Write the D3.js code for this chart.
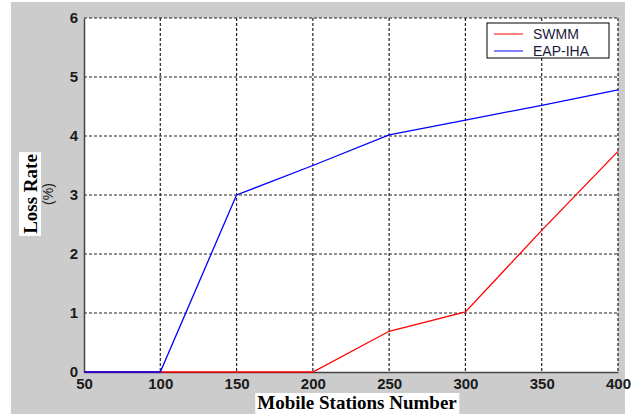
<!DOCTYPE html>
<html>
<head>
<meta charset="utf-8">
<script src="https://cdn.jsdelivr.net/npm/d3@7"></script>
<style>
body{margin:0;background:#fff;}
</style>
</head>
<body>
<script>
var stations=[50,100,150,200,250,300,350,400];
var swmm=[0,0,0,0,0.69,1.02,2.4,3.74];
var eapIha=[0,0,3.0,3.5,4.02,4.27,4.52,4.78];
var seriesNames=["SWMM","EAP-IHA"];
var seriesColors=["#ff0000","#0000ff"];
var yTicks=[0,1,2,3,4,5,6];

var width=636, height=414;
var margin={left:84, right:18, top:18, bottom:42};
var innerW=width-margin.left-margin.right;
var innerH=height-margin.top-margin.bottom;

var svg=d3.select("body").append("svg").attr("width",width).attr("height",height);

// grey figure background
svg.append("rect").attr("x",11).attr("y",2).attr("width",614).attr("height",412).attr("fill","#cccccc");

var x=d3.scaleLinear().domain([50,400]).range([0,innerW]);
var y=d3.scaleLinear().domain([0,6]).range([innerH,0]);

var g=svg.append("g").attr("transform","translate("+margin.left+","+margin.top+")");
g.append("rect").attr("width",innerW).attr("height",innerH).attr("fill","#fff");

// dashed grid
g.append("g").selectAll("line").data(stations.slice(1))
  .enter().append("line")
  .attr("x1",function(d){return x(d);}).attr("x2",function(d){return x(d);})
  .attr("y1",0).attr("y2",innerH)
  .attr("stroke","#222").attr("stroke-width",1.2).attr("stroke-dasharray","3,2");
g.append("g").selectAll("line").data(yTicks.slice(1))
  .enter().append("line")
  .attr("y1",function(d){return y(d);}).attr("y2",function(d){return y(d);})
  .attr("x1",0).attr("x2",innerW)
  .attr("stroke","#222").attr("stroke-width",1.2).attr("stroke-dasharray","3,2");

// axes
var xAxis=d3.axisBottom(x).tickValues(stations).tickSize(0).tickPadding(6).tickFormat(d3.format("d"));
var yAxis=d3.axisLeft(y).tickValues(yTicks).tickSize(0).tickPadding(6).tickFormat(d3.format("d"));
var gx=g.append("g").attr("transform","translate(0,"+innerH+")").call(xAxis);
var gy=g.append("g").call(yAxis);
[gx,gy].forEach(function(a){
  a.select(".domain").attr("stroke","#444").attr("stroke-width",1.5);
  a.selectAll("text").attr("font-family","Liberation Sans, Arial, sans-serif")
    .attr("font-size",15).attr("fill","#1a1a1a").attr("font-weight","bold");
});
gy.selectAll("text").attr("dy","0.32em");

// series lines on top of axes, red under blue
var line=d3.line().x(function(d,i){return x(stations[i]);}).y(function(d){return y(d);});
[swmm,eapIha].forEach(function(s,k){
  g.append("path").datum(s).attr("d",line).attr("fill","none")
    .attr("stroke",seriesColors[k]).attr("stroke-width",1.3);
});

// legend
var leg=svg.append("g").attr("transform","translate(487,23)");
leg.append("rect").attr("width",122).attr("height",35).attr("fill","#fff").attr("stroke","#000").attr("stroke-width",1);
seriesNames.forEach(function(n,i){
  leg.append("line").attr("x1",7).attr("x2",36).attr("y1",11+i*17).attr("y2",11+i*17)
    .attr("stroke",seriesColors[i]);
  leg.append("text").attr("x",46).attr("y",16+i*17).text(n)
    .attr("font-family","Liberation Sans, Arial, sans-serif").attr("font-size",14).attr("fill","#1a1a3a");
});

// axis titles with white boxes
var xBox=svg.append("rect").attr("fill","#fff");
var xt=svg.append("text").attr("x",357).attr("y",409).attr("text-anchor","middle")
  .attr("font-family","Liberation Serif, Times New Roman, serif").attr("font-weight","bold")
  .attr("font-size",19).text("Mobile Stations Number");
var bb=xt.node().getBBox();
xBox.attr("x",bb.x-2).attr("y",bb.y+1).attr("width",bb.width+4).attr("height",bb.height);

var yBox=svg.append("rect").attr("fill","#fff");
var yt=svg.append("text").attr("transform","translate(37,194) rotate(-90)").attr("text-anchor","middle")
  .attr("font-family","Liberation Serif, Times New Roman, serif").attr("font-weight","bold")
  .attr("font-size",19).text("Loss Rate");
var yb=yt.node().getBBox();
yBox.attr("x",37+yb.y-1).attr("y",194-yb.x-yb.width-2).attr("width",yb.height+1).attr("height",yb.width+4);

svg.append("text").attr("transform","translate(53,194) rotate(-90)").attr("text-anchor","middle")
  .attr("font-family","Liberation Sans, Arial, sans-serif").attr("font-size",14).attr("fill","#222").text("(%)");
</script>
</body>
</html>
